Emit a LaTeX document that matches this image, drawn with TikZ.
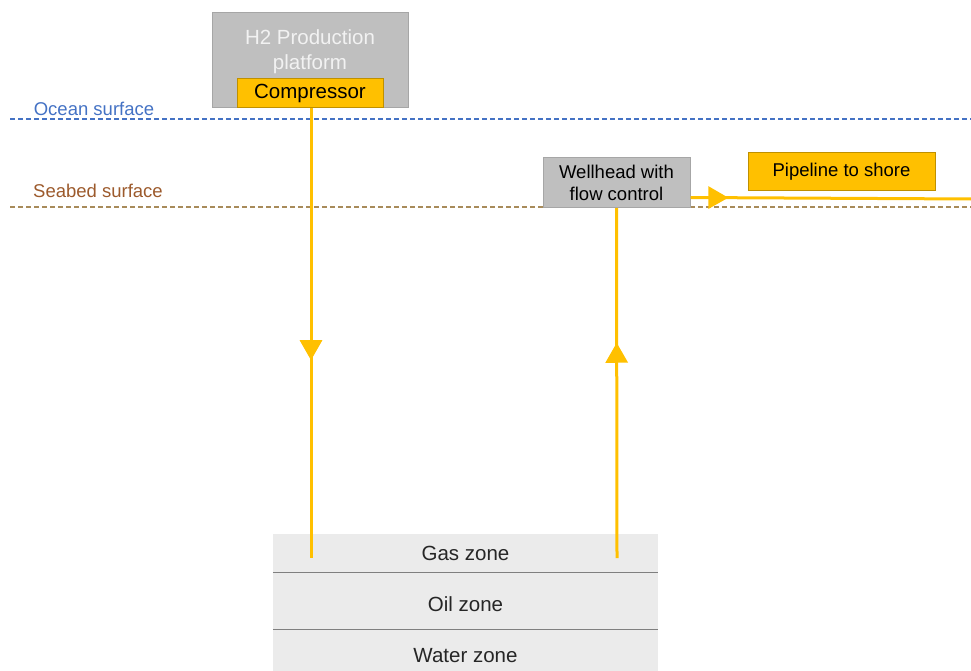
\documentclass[tikz,border=0pt]{standalone}
\usepackage{fontspec}
\setmainfont{Liberation Sans}
\usetikzlibrary{arrows.meta,decorations.markings}
\definecolor{boxgray}{HTML}{BFBFBF}
\definecolor{boxedge}{HTML}{A6A6A6}
\definecolor{gold}{HTML}{FFC000}
\definecolor{goldedge}{HTML}{BF9000}
\definecolor{oceanblue}{HTML}{4472C4}
\definecolor{seabedbrown}{HTML}{9C5A2C}
\definecolor{seabedline}{HTML}{A88B5A}
\definecolor{zonegray}{HTML}{EBEBEB}
\definecolor{zoneedge}{HTML}{7F7F7F}
\tikzset{
  graybox/.style={draw=boxedge, fill=boxgray, line width=1pt, inner sep=0pt, align=center},
  goldbox/.style={draw=goldedge, fill=gold, line width=1pt, inner sep=0pt, align=center},
  zonebox/.style={fill=zonegray, inner sep=0pt, minimum width=385pt, font=\fontsize{20.5}{24}\selectfont, text=black!85},
  flow/.style={gold, line width=3pt},
  midtip/.style={postaction={decorate}, decoration={markings,
    mark=at position #1 with {\arrow{Triangle[width=22pt,length=20pt]}}}},
}
\begin{document}
\begin{tikzpicture}[x=1pt,y=-1pt]
	\useasboundingbox (0,0) rectangle (971,671);
	% Ocean and seabed surfaces
	\draw[oceanblue, line width=1.2pt, dash pattern=on 5pt off 3pt] (10,119) -- (971,119);
	\node[text=oceanblue, font=\fontsize{18.5}{22}\selectfont] (ocean) at (94,109) {Ocean surface};
	\draw[seabedline, line width=1.2pt, dash pattern=on 5pt off 3pt] (10,207) -- (971,207);
	\node[text=seabedbrown, font=\fontsize{18.5}{22}\selectfont] (seabed) at (98,191) {Seabed surface};
	% Platform with compressor
	\node[graybox, minimum width=196pt, minimum height=95pt] (platform) at (310,60.5) {};
	\node[text=white!95!black, align=center, font=\fontsize{20.5}{25}\selectfont] (platformtext) at (310,52) {H2 Production\\platform};
	\node[goldbox, minimum width=146pt, minimum height=29pt, font=\fontsize{20.5}{24}\selectfont] (compressor) at (310,93.5) {Compressor};
	% Wellhead and pipeline
	\node[graybox, minimum width=147pt, minimum height=50pt, font=\fontsize{18.5}{22}\selectfont] (wellhead) at (616.5,182.5) {Wellhead with\\flow control};
	\node[goldbox, minimum width=187pt, minimum height=38pt, font=\fontsize{18.5}{22}\selectfont] (pipeline) at (841.5,172) {Pipeline to shore};
	% Reservoir zones
	\node[zonebox, minimum height=38pt] (gas) at (465.5,553) {Gas zone};
	\node[zonebox, minimum height=64pt] (oil) at (465.5,604) {Oil zone};
	\node[zonebox, minimum height=52pt] (water) at (465.5,656) {Water zone};
	\draw[zoneedge, line width=1.2pt] (gas.south west) -- (gas.south east);
	\draw[zoneedge, line width=1.2pt] (water.north west) -- (water.north east);
	% Flow lines
	\coordinate (gasin) at (311,558);
	\coordinate (gasout) at (617,558);
	\coordinate (shore) at (971,199);
	\draw[flow, midtip=0.56] ([xshift=1pt]compressor.south) -- (gasin);
	\draw[flow, midtip=0.615] (gasout) -- (wellhead.south);
	\draw[flow, midtip=0.135] ([yshift=-15pt]wellhead.east) -- (shore);
\end{tikzpicture}
\end{document}
